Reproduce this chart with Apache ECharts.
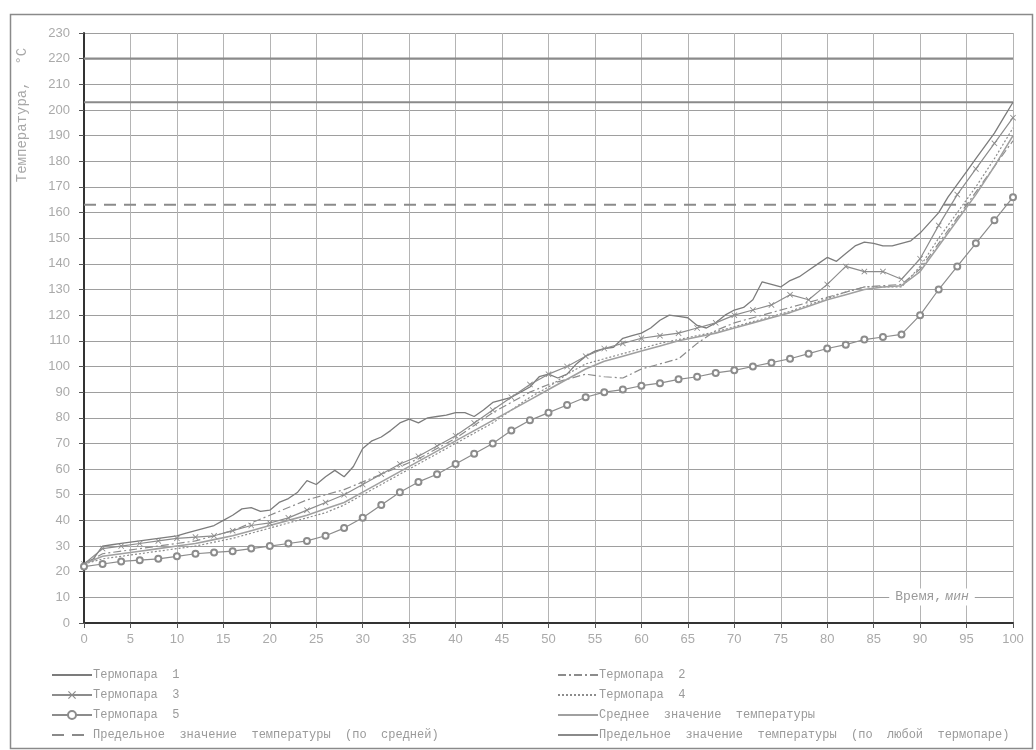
<!DOCTYPE html>
<html>
<head>
<meta charset="utf-8">
<title>Температура термопар</title>
<script src="https://cdn.jsdelivr.net/npm/echarts@6/dist/echarts.min.js"></script>
<style>
  html, body { margin: 0; padding: 0; background: #fff; }
  #chart { width: 1036px; height: 750px; }
</style>
</head>
<body>
<div id="chart"></div>
<script>
// время, мин (термопара 1 снята поминутно, остальные через 2 мин)
const minutes1 = [0, 1, 2, 3, 4, 5, 6, 7, 8, 9, 10, 11, 12, 13, 14, 15, 16, 17, 18, 19,
  20, 21, 22, 23, 24, 25, 26, 27, 28, 29, 30, 31, 32, 33, 34, 35, 36, 37, 38, 39,
  40, 41, 42, 43, 44, 45, 46, 47, 48, 49, 50, 51, 52, 53, 54, 55, 56, 57, 58, 59,
  60, 61, 62, 63, 64, 65, 66, 67, 68, 69, 70, 71, 72, 73, 74, 75, 76, 77, 78, 79,
  80, 81, 82, 83, 84, 85, 86, 87, 88, 89, 90, 91, 92, 93, 94, 95, 96, 97, 98, 99, 100]
const minutes2 = [0, 2, 4, 6, 8, 10, 12, 14, 16, 18, 20, 22, 24, 26, 28, 30, 32, 34, 36, 38,
  40, 42, 44, 46, 48, 50, 52, 54, 56, 58, 60, 62, 64, 66, 68, 70, 72, 74, 76, 78,
  80, 82, 84, 86, 88, 90, 92, 94, 96, 98, 100]
const limitTimes = [0, 100]

// температура, °С
const tc1 = [23, 25, 30, 30.5, 31, 31.5, 32, 32.5, 33, 33.5,
  34, 35, 36, 37, 38, 40, 42, 44.5, 45, 43.5,
  44, 47, 48.5, 51, 55.5, 54, 57, 59.5, 57, 61,
  68, 71, 72.5, 75, 78, 79.5, 78, 80, 80.5, 81,
  82, 82, 80.5, 83, 86, 87, 88, 90, 92, 96,
  97, 95.5, 97, 101, 104, 106, 107, 107.5, 111, 112,
  113, 115, 118, 120, 119.5, 119, 116, 115, 117, 120,
  122, 123, 126, 133, 132, 131, 133.5, 135, 137.5, 140,
  142.5, 141, 144, 147, 148.5, 148, 147, 147, 148, 149,
  152, 156, 160, 166, 171, 176, 181, 186, 191, 197, 203]
const tc2 = [23, 27, 28, 29, 30, 31, 32, 34, 36, 39,
  42, 45, 48, 50, 52, 55, 58, 61, 64, 68,
  72, 77, 82, 86, 90, 93, 95, 97, 96, 95.5,
  99, 101, 103, 109, 114, 117, 119, 121, 123, 125,
  127, 129, 131, 131.5, 132, 138, 148, 158, 168, 178, 188]
const tc3 = [23, 29, 30, 31, 32, 33, 33.5, 34, 36, 38,
  39, 41, 44, 47, 50, 54, 58, 62, 65, 69,
  73, 78, 83, 88, 93, 97, 100, 104, 107, 109,
  111, 112, 113, 115, 117, 120, 122, 124, 128, 126,
  132, 139, 137, 137, 134, 142, 155, 167, 177, 187, 197]
const tc4 = [23, 25, 26, 27, 28, 29, 30, 31.5, 33, 35,
  37, 39, 41, 43, 46, 50, 54, 58, 62, 66,
  70, 74, 78, 83, 88, 92, 97, 101, 103, 105,
  107, 109, 110.5, 112, 113.5, 115.5, 117.5, 119.5, 121.5, 124,
  126.5, 129, 131, 131, 131, 139, 150, 160, 170, 181, 193]
const tc5 = [22, 23, 24, 24.5, 25, 26, 27, 27.5, 28, 29,
  30, 31, 32, 34, 37, 41, 46, 51, 55, 58,
  62, 66, 70, 75, 79, 82, 85, 88, 90, 91,
  92.5, 93.5, 95, 96, 97.5, 98.5, 100, 101.5, 103, 105,
  107, 108.5, 110.5, 111.5, 112.5, 120, 130, 139, 148, 157, 166]
const tcAvg = [23, 26, 27, 28, 29, 30, 31, 32.5, 34, 36,
  38, 40, 42, 44.5, 47, 51, 55, 59, 63, 67,
  71, 75, 79, 83, 87, 91, 95, 99, 102, 104,
  106, 108, 110, 111.5, 113, 115, 117, 119, 121, 123.5,
  126, 128, 130, 131, 131.5, 137, 147, 157, 167, 178, 190]
const limitAvg = [163, 163]
const limitAny = [203, 203]
const limitAnyTop = [220, 220]

const yTicks = { min: 0, max: 230, step: 10 }
const xTicks = { min: 0, max: 100, step: 5 }

const pairs = (ts, vs) => ts.map((t, i) => [t, vs[i]])

const MONO = '"Liberation Mono", "DejaVu Sans Mono", monospace'
const LINE = '#8c8c8c'
const crossPath = 'path://M0,1L1,0L5,4L9,0L10,1L6,5L10,9L9,10L5,6L1,10L0,9L4,5Z'

const chart = echarts.init(document.getElementById('chart'))

// линия без маркеров: символ прозрачный, чтобы в легенде была только линия
const lineSeries = (name, data, lineStyle, extra) => Object.assign({
  name,
  type: 'line',
  data,
  symbol: 'circle',
  showSymbol: false,
  lineStyle: Object.assign({ color: LINE, width: 1.2 }, lineStyle),
  itemStyle: { color: 'rgba(0,0,0,0)' },
  emphasis: { disabled: true },
  animation: false
}, extra || {})

const legendBase = {
  orient: 'vertical',
  itemWidth: 40,
  itemHeight: 10,
  itemGap: 8,
  height: 110,
  formatter: name => name.replace(/ /g, '  '),
  textStyle: { fontFamily: MONO, fontSize: 12, color: '#9a9a9a', padding: [0, 0, 0, -4] },
  selectedMode: false
}

const option = {
  backgroundColor: '#ffffff',
  animation: false,
  grid: { left: 84, right: 23, top: 33, bottom: 127 },
  legend: [
    Object.assign({}, legendBase, {
      left: 46, top: 664,
      data: ['Термопара 1', 'Термопара 3', 'Термопара 5', 'Предельное значение температуры (по средней)']
    }),
    Object.assign({}, legendBase, {
      left: 552, top: 664,
      data: ['Термопара 2', 'Термопара 4', 'Среднее значение температуры', 'Предельное значение температуры (по любой термопаре)']
    })
  ],
  xAxis: {
    type: 'value',
    min: xTicks.min,
    max: xTicks.max,
    interval: xTicks.step,
    axisLine: { show: true, onZero: false, lineStyle: { color: '#333', width: 2 } },
    axisTick: { show: true, length: 5, lineStyle: { color: '#555' } },
    axisLabel: { color: '#aaaaaa', fontSize: 13, margin: 10, fontFamily: '"Liberation Sans", Arial, sans-serif' },
    splitLine: { show: true, lineStyle: { color: '#b4b4b4', width: 1 } }
  },
  yAxis: {
    type: 'value',
    min: yTicks.min,
    max: yTicks.max,
    interval: yTicks.step,
    axisLine: { show: true, lineStyle: { color: '#333', width: 2 } },
    axisTick: { show: true, length: 5, lineStyle: { color: '#555' } },
    axisLabel: { color: '#aaaaaa', fontSize: 13, margin: 14, fontFamily: '"Liberation Sans", Arial, sans-serif' },
    splitLine: { show: true, lineStyle: { color: '#9e9e9e', width: 1 } }
  },
  graphic: [
    {
      type: 'rect',
      left: 8, top: 12,
      shape: { width: 1022, height: 734 },
      style: { fill: 'none', stroke: '#8a8a8a', lineWidth: 1.5 },
      silent: true, z: -1
    },
    {
      type: 'text',
      x: 22, y: 115,
      rotation: Math.PI / 2,
      style: {
        text: 'Температура,  °С',
        font: '14px ' + MONO,
        fill: '#a8a8a8',
        align: 'center',
        verticalAlign: 'middle'
      },
      silent: true
    },
    {
      type: 'text',
      x: 932, y: 597,
      z: 100,
      style: {
        text: '{a|Время,} {b|мин}',
        align: 'center',
        verticalAlign: 'middle',
        backgroundColor: '#ffffff',
        padding: [2, 6],
        rich: {
          a: { font: '13px ' + MONO, fill: '#9a9a9a' },
          b: { font: 'italic 13px ' + MONO, fill: '#9a9a9a' }
        }
      },
      silent: true
    }
  ],
  series: [
    lineSeries('Предельное значение температуры (по любой термопаре)', pairs(limitTimes, limitAnyTop),
      { color: '#8a8a8a', width: 2.2 }, { z: 1 }),
    lineSeries('Предельное значение температуры (по любой термопаре)', pairs(limitTimes, limitAny),
      { color: '#8a8a8a', width: 2.2 }, { z: 1 }),
    lineSeries('Предельное значение температуры (по средней)', pairs(limitTimes, limitAvg),
      { color: '#8a8a8a', width: 2, type: [12, 8] }, { z: 1 }),
    lineSeries('Термопара 1', pairs(minutes1, tc1), { color: '#7c7c7c', width: 1.3 }),
    lineSeries('Термопара 2', pairs(minutes2, tc2), { type: [8, 3, 2, 3] }),
    lineSeries('Термопара 3', pairs(minutes2, tc3), {}, {
      symbol: crossPath, symbolSize: 6, showSymbol: true,
      itemStyle: { color: '#8c8c8c' }
    }),
    lineSeries('Термопара 4', pairs(minutes2, tc4), { type: [2, 2] }),
    lineSeries('Термопара 5', pairs(minutes2, tc5), {}, {
      symbol: 'emptyCircle', symbolSize: 6, showSymbol: true,
      itemStyle: { color: '#8c8c8c', borderWidth: 1.2 }
    }),
    lineSeries('Среднее значение температуры', pairs(minutes2, tcAvg), { color: '#a0a0a0', width: 1.6 })
  ]
}

chart.setOption(option)
</script>
</body>
</html>
